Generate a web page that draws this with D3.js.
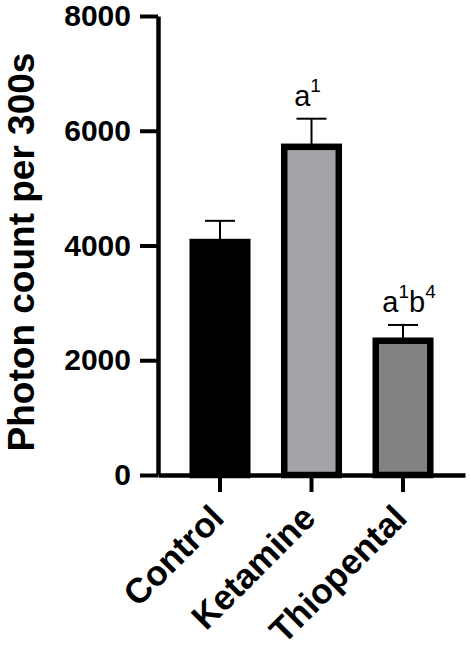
<!DOCTYPE html>
<html>
<head>
<meta charset="utf-8">
<script src="https://cdn.jsdelivr.net/npm/d3@7"></script>
<style>
  body { margin: 0; background: #fff; }
  text { font-family: "Liberation Sans", Arial, sans-serif; }
</style>
</head>
<body>
<svg id="chart" width="471" height="649"></svg>
<script>
// data
const groups = ["Control", "Ketamine", "Thiopental"];
const means = [4060, 5720, 2340];
const sems = [370, 490, 275];
const fills = ["#000000", "#a4a4a8", "#838383"];
const yTicks = [0, 2000, 4000, 6000, 8000];
// significance letters: [letter, superscript] pairs per group
const marks = [[], [["a", "1"]], [["a", "1"], ["b", "4"]]];

const svg = d3.select("#chart");

// scales
const y = d3.scaleLinear().domain([0, 8000]).range([475, 16]);
const x = d3.scaleBand()
  .domain(groups)
  .range([158, 465])
  .paddingInner(0.333)
  .paddingOuter(0.344);

const strokeW = 6.5;

// bars (stroke centred on the rect edge)
svg.selectAll("rect.bar")
  .data(groups)
  .enter()
  .append("rect")
  .attr("class", "bar")
  .attr("x", d => x(d) + strokeW / 2)
  .attr("y", (d, i) => y(means[i]))
  .attr("width", x.bandwidth() - strokeW)
  .attr("height", (d, i) => y(0) - y(means[i]))
  .attr("fill", (d, i) => fills[i])
  .attr("stroke", "#000")
  .attr("stroke-width", strokeW);

// error bars (upper only)
const eb = svg.selectAll("g.err")
  .data(groups)
  .enter()
  .append("g")
  .attr("class", "err")
  .attr("stroke", "#000")
  .attr("stroke-width", 2);

eb.append("line")
  .attr("x1", d => x(d) + x.bandwidth() / 2)
  .attr("x2", d => x(d) + x.bandwidth() / 2)
  .attr("y1", (d, i) => y(means[i]))
  .attr("y2", (d, i) => y(means[i] + sems[i]));

eb.append("line")
  .attr("x1", d => x(d) + x.bandwidth() / 2 - 15)
  .attr("x2", d => x(d) + x.bandwidth() / 2 + 15)
  .attr("y1", (d, i) => y(means[i] + sems[i]))
  .attr("y2", (d, i) => y(means[i] + sems[i]));

// significance annotations
groups.forEach((g, i) => {
  if (!marks[i].length) return;
  const t = svg.append("text")
    .attr("x", x(g) + x.bandwidth() / 2 + (marks[i].length > 1 ? 6 : -4))
    .attr("y", y(means[i] + sems[i]) - 13)
    .attr("text-anchor", "middle")
    .attr("font-size", 29)
    .attr("fill", "#000");
  marks[i].forEach(([letter, sup], k) => {
    // drop back to the baseline after a previous superscript
    t.append("tspan").attr("dy", k > 0 ? 14 : 0).text(letter);
    t.append("tspan")
      .attr("font-size", 19)
      .attr("dy", -14)
      .text(sup);
  });
});

// y axis
const yAxis = svg.append("g")
  .attr("transform", "translate(158,0)")
  .call(d3.axisLeft(y).tickValues(yTicks).tickFormat(d3.format("d"))
    .tickSize(18).tickSizeOuter(0).tickPadding(9));
yAxis.select(".domain").attr("stroke-width", 4.5);
yAxis.selectAll(".tick line").attr("stroke-width", 4);
yAxis.selectAll(".tick text")
  .attr("font-family", "Liberation Sans, Arial, sans-serif")
  .attr("font-size", 30)
  .attr("font-weight", "bold")
  .attr("fill", "#000");

// x axis
const xAxis = svg.append("g")
  .attr("transform", "translate(0,475)")
  .call(d3.axisBottom(x).tickSize(17).tickSizeOuter(0));
xAxis.select(".domain").attr("stroke-width", 4.5);
xAxis.selectAll(".tick line").attr("stroke-width", 4);
xAxis.selectAll(".tick text").remove();

// rotated category labels
svg.selectAll("text.cat")
  .data(groups)
  .enter()
  .append("text")
  .attr("class", "cat")
  .attr("transform", d => `translate(${x(d) + x.bandwidth() / 2 + 6},520) rotate(-45)`)
  .attr("text-anchor", "end")
  .attr("font-size", 35)
  .attr("font-weight", "bold")
  .attr("fill", "#000")
  .text(d => d);

// y axis title
svg.append("text")
  .attr("transform", "translate(34,252) rotate(-90)")
  .attr("text-anchor", "middle")
  .attr("font-size", 37)
  .attr("font-weight", "bold")
  .attr("fill", "#000")
  .text("Photon count per 300s");
</script>
</body>
</html>
